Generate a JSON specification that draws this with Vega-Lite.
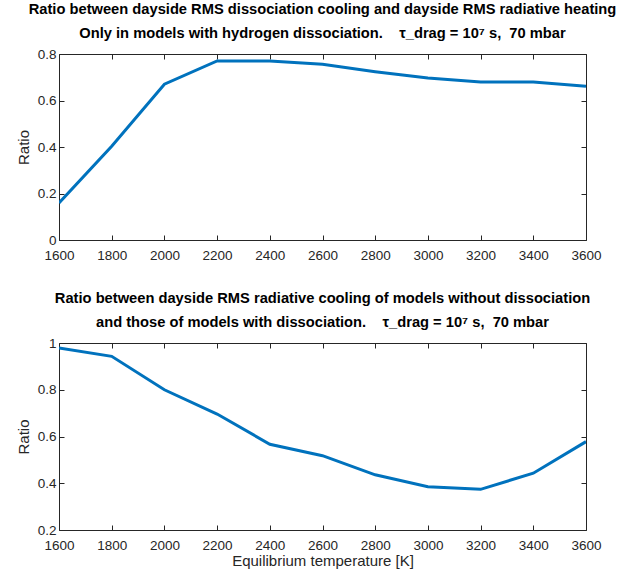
{
  "$schema": "https://vega.github.io/schema/vega-lite/v6.json",
  "background": "white",
  "padding": {"left": 16, "top": 2, "right": 8, "bottom": 2},
  "spacing": 29,
  "config": {
    "font": "Liberation Sans",
    "view": {"stroke": null},
    "axis": {
      "labelFont": "Liberation Sans",
      "labelFontSize": 13.5,
      "labelColor": "#262626",
      "domainColor": "#262626",
      "tickColor": "#262626",
      "titleFont": "Liberation Sans",
      "titleFontSize": 15,
      "titleFontWeight": "normal",
      "titleColor": "#262626",
      "grid": false,
      "tickSize": -5,
      "labelPadding": 8,
      "labelFlush": false
    },
    "axisX": {"labelPadding": 13},
    "title": {"font": "Liberation Sans", "fontSize": 14.7, "fontWeight": "bold", "color": "#000000", "lineHeight": 24, "offset": 6}
  },
  "datasets": {
    "cooling": [
      {"T": 1600, "ratio": 0.159},
      {"T": 1800, "ratio": 0.403},
      {"T": 2000, "ratio": 0.670},
      {"T": 2200, "ratio": 0.770},
      {"T": 2400, "ratio": 0.770},
      {"T": 2600, "ratio": 0.756},
      {"T": 2800, "ratio": 0.724},
      {"T": 3000, "ratio": 0.697},
      {"T": 3200, "ratio": 0.680},
      {"T": 3400, "ratio": 0.680},
      {"T": 3600, "ratio": 0.661}
    ],
    "radiative": [
      {"T": 1600, "ratio": 0.979},
      {"T": 1800, "ratio": 0.943},
      {"T": 2000, "ratio": 0.800},
      {"T": 2200, "ratio": 0.696},
      {"T": 2400, "ratio": 0.567},
      {"T": 2600, "ratio": 0.518},
      {"T": 2800, "ratio": 0.436},
      {"T": 3000, "ratio": 0.385},
      {"T": 3200, "ratio": 0.374},
      {"T": 3400, "ratio": 0.443},
      {"T": 3600, "ratio": 0.578}
    ]
  },
  "vconcat": [
    {
      "title": {"text": ["Ratio between dayside RMS dissociation cooling and dayside RMS radiative heating", "Only in models with hydrogen dissociation.\u00a0\u00a0\u00a0\u00a0τ_drag = 10⁷ s,\u00a0 70 mbar"]},
      "width": 527,
      "height": 186,
      "data": {"name": "cooling"},
      "resolve": {"axis": {"x": "independent", "y": "independent"}},
      "layer": [
        {
          "mark": {"type": "line", "color": "#0072BD", "strokeWidth": 3, "clip": true},
          "encoding": {
            "x": {"field": "T", "type": "quantitative", "scale": {"domain": [1600, 3600], "nice": false, "zero": false},
                  "axis": {"title": null, "values": [1600, 1800, 2000, 2200, 2400, 2600, 2800, 3000, 3200, 3400, 3600], "format": "d", "orient": "bottom"}},
            "y": {"field": "ratio", "type": "quantitative", "scale": {"domain": [0, 0.8], "nice": false},
                  "axis": {"title": "Ratio", "values": [0, 0.2, 0.4, 0.6, 0.8], "format": "~g", "orient": "left", "titlePadding": 6}}
          }
        },
        {
          "mark": {"type": "line", "color": "#0072BD", "strokeWidth": 3, "opacity": 0},
          "encoding": {
            "x": {"field": "T", "type": "quantitative", "axis": {"title": null, "labels": false, "values": [1600, 1800, 2000, 2200, 2400, 2600, 2800, 3000, 3200, 3400, 3600], "orient": "top"}},
            "y": {"field": "ratio", "type": "quantitative", "axis": {"title": null, "labels": false, "values": [0, 0.2, 0.4, 0.6, 0.8], "orient": "right"}}
          }
        }
      ]
    },
    {
      "title": {"text": ["Ratio between dayside RMS radiative cooling of models without dissociation", "and those of models with dissociation.\u00a0\u00a0\u00a0\u00a0τ_drag = 10⁷ s,\u00a0 70 mbar"]},
      "width": 527,
      "height": 187,
      "data": {"name": "radiative"},
      "resolve": {"axis": {"x": "independent", "y": "independent"}},
      "layer": [
        {
          "mark": {"type": "line", "color": "#0072BD", "strokeWidth": 3, "clip": true},
          "encoding": {
            "x": {"field": "T", "type": "quantitative", "scale": {"domain": [1600, 3600], "nice": false, "zero": false},
                  "axis": {"title": "Equilibrium temperature [K]", "titlePadding": 2, "values": [1600, 1800, 2000, 2200, 2400, 2600, 2800, 3000, 3200, 3400, 3600], "format": "d", "orient": "bottom"}},
            "y": {"field": "ratio", "type": "quantitative", "scale": {"domain": [0.2, 1], "nice": false, "zero": false},
                  "axis": {"title": "Ratio", "values": [0.2, 0.4, 0.6, 0.8, 1], "format": "~g", "orient": "left", "titlePadding": 6}}
          }
        },
        {
          "mark": {"type": "line", "color": "#0072BD", "strokeWidth": 3, "opacity": 0},
          "encoding": {
            "x": {"field": "T", "type": "quantitative", "axis": {"title": null, "labels": false, "values": [1600, 1800, 2000, 2200, 2400, 2600, 2800, 3000, 3200, 3400, 3600], "orient": "top"}},
            "y": {"field": "ratio", "type": "quantitative", "axis": {"title": null, "labels": false, "values": [0.2, 0.4, 0.6, 0.8, 1], "orient": "right"}}
          }
        }
      ]
    }
  ]
}
